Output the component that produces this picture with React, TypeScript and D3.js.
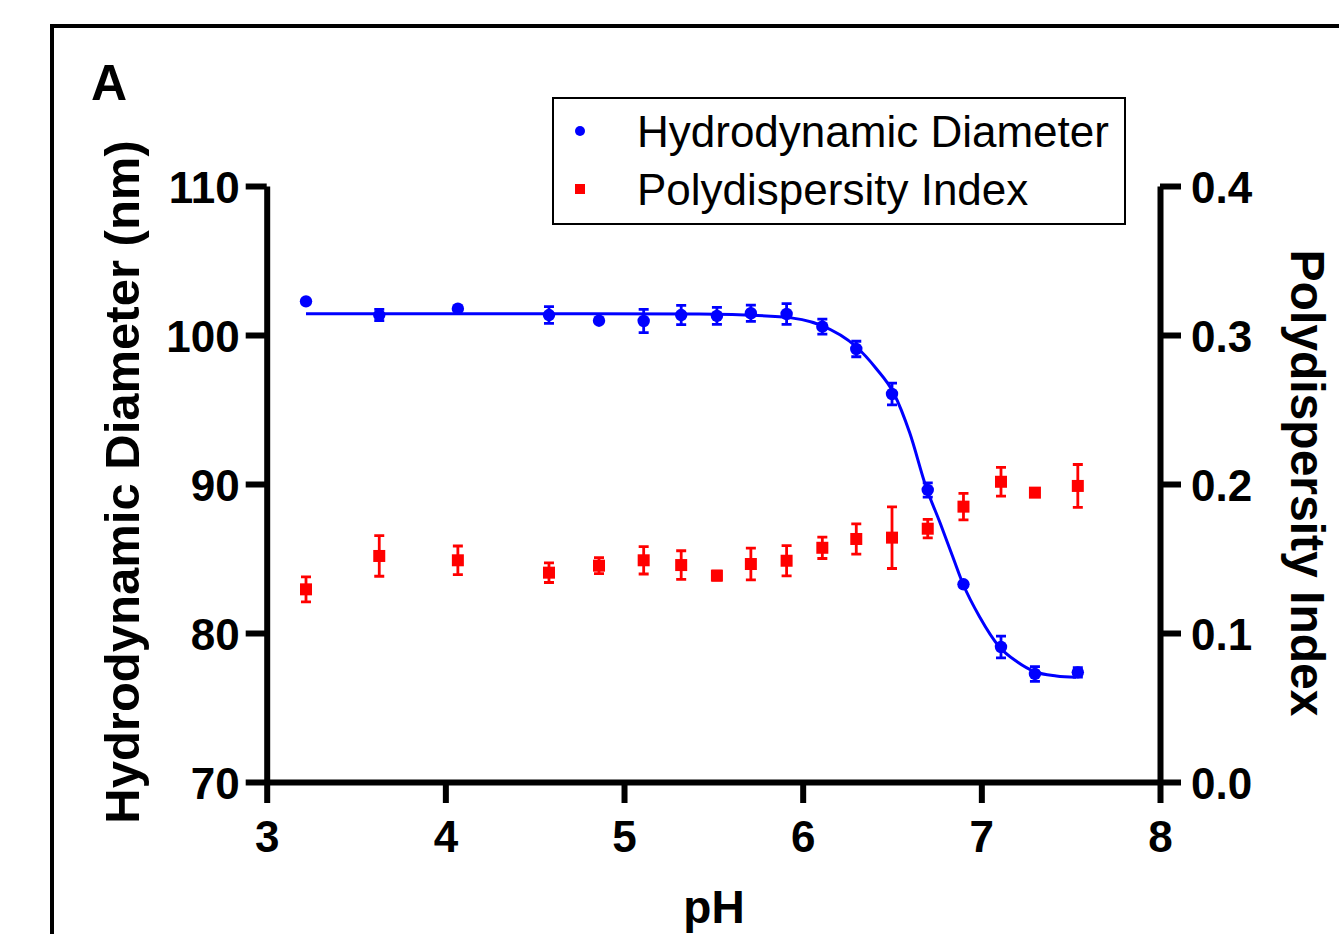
import React, { useEffect, useRef } from "react";
import * as d3 from "d3";

// measured points (pH vs hydrodynamic diameter / PDI)
const phValues = [3.22, 3.63, 4.07, 4.58, 4.86, 5.11, 5.32, 5.52, 5.71, 5.91, 6.11, 6.3, 6.5, 6.7, 6.9, 7.11, 7.3, 7.54];
const diameter = [102.26, 101.34, 101.77, 101.34, 100.96, 100.94, 101.34, 101.28, 101.46, 101.41, 100.56, 99.06, 96.04, 89.6, 83.27, 79.06, 77.25, 77.36];
const diameterErr = [0, 0.38, 0, 0.56, 0, 0.78, 0.65, 0.57, 0.54, 0.7, 0.5, 0.52, 0.73, 0.48, 0, 0.73, 0.5, 0.32];
const pdi = [0.1293, 0.1517, 0.1488, 0.1405, 0.1452, 0.1488, 0.1456, 0.1385, 0.1463, 0.1485, 0.1572, 0.1631, 0.164, 0.17, 0.1848, 0.2015, 0.1942, 0.1987];
const pdiErr = [0.0084, 0.0136, 0.0096, 0.0066, 0.0054, 0.0092, 0.0096, 0.003, 0.0106, 0.0102, 0.0072, 0.0102, 0.0207, 0.0062, 0.0089, 0.0097, 0.002, 0.0144];

// sigmoid fit line
const fitPh = [3.22, 4.3, 5.42, 5.87, 6.1, 6.3, 6.41, 6.51, 6.6, 6.69, 6.77, 6.84, 6.9, 6.99, 7.1, 7.2, 7.3, 7.42, 7.53];
const fitDiameter = [101.43, 101.43, 101.41, 101.23, 100.67, 99.21, 97.77, 96.09, 93.4, 89.82, 87.36, 85.12, 83.22, 81.09, 79.08, 78.07, 77.4, 77.12, 77.03];

const xTicks = [3, 4, 5, 6, 7, 8];
const leftTicks = [70, 80, 90, 100, 110];
const rightTicks = [0, 0.1, 0.2, 0.3, 0.4];
const legendNames = ["Hydrodynamic Diameter", "Polydispersity Index"];
const seriesColors = ["#0000ff", "#ff0000"];

const W = 1339;
const H = 934;
const FONT = "'Liberation Sans', Arial, sans-serif";

export default function App() {
  const ref = useRef<SVGSVGElement>(null);

  useEffect(() => {
    const svg = d3.select(ref.current);
    svg.selectAll("*").remove();

    const x = d3.scaleLinear().domain([3, 8]).range([266.7, 1160]);
    const yL = d3.scaleLinear().domain([70, 110]).range([782, 186]);
    const yR = d3.scaleLinear().domain([0, 0.4]).range([782, 186]);

    // outer panel frame (runs off the page on right and bottom)
    svg.append("rect")
      .attr("x", 52).attr("y", 26)
      .attr("width", 1400).attr("height", 1000)
      .attr("fill", "none").attr("stroke", "#000").attr("stroke-width", 4);

    svg.append("text")
      .attr("x", 91).attr("y", 100)
      .attr("font-family", FONT).attr("font-weight", "bold").attr("font-size", 50)
      .text("A");

    const styleAxis = (g: any) => {
      g.select(".domain").attr("stroke-width", 6);
      g.selectAll(".tick line").attr("stroke-width", 6);
      g.selectAll(".tick text")
        .attr("font-family", FONT).attr("font-weight", "bold").attr("font-size", 44)
        .attr("fill", "#000");
    };

    // axes
    const gx = svg.append("g").attr("transform", "translate(0,782)")
      .call(d3.axisBottom(x).tickValues(xTicks).tickSize(21).tickSizeOuter(0).tickPadding(18).tickFormat(d3.format("d")));
    styleAxis(gx);
    gx.selectAll(".tick text").attr("dy", "0.71em");

    const gl = svg.append("g").attr("transform", "translate(266.7,0)")
      .call(d3.axisLeft(yL).tickValues(leftTicks).tickSize(21).tickSizeOuter(0).tickPadding(6).tickFormat(d3.format("d")));
    styleAxis(gl);
    gl.selectAll(".tick text").attr("dy", "0.38em");

    const gr = svg.append("g").attr("transform", "translate(1160,0)")
      .call(d3.axisRight(yR).tickValues(rightTicks).tickSize(21).tickSizeOuter(0).tickPadding(10).tickFormat(d3.format(".1f")));
    styleAxis(gr);
    gr.selectAll(".tick text").attr("dy", "0.38em");

    // axis titles
    svg.append("text")
      .attr("transform", "translate(139,482) rotate(-90)")
      .attr("text-anchor", "middle")
      .attr("font-family", FONT).attr("font-weight", "bold").attr("font-size", 49)
      .text("Hydrodynamic Diameter (nm)");

    svg.append("text")
      .attr("transform", "translate(1291,483) rotate(90)")
      .attr("text-anchor", "middle")
      .attr("font-family", FONT).attr("font-weight", "bold").attr("font-size", 48)
      .text("Polydispersity Index");

    svg.append("text")
      .attr("x", 714).attr("y", 923)
      .attr("text-anchor", "middle")
      .attr("font-family", FONT).attr("font-weight", "bold").attr("font-size", 46)
      .text("pH");

    const capW = 5;

    // PDI series (right axis)
    const red = svg.append("g").attr("stroke", seriesColors[1]).attr("fill", seriesColors[1]);
    phValues.forEach((p, i) => {
      const cx = x(p);
      const e = pdiErr[i];
      if (e > 0) {
        const y1 = yR(pdi[i] + e), y2 = yR(pdi[i] - e);
        red.append("path")
          .attr("d", `M${cx},${y1}V${y2}M${cx - capW},${y1}H${cx + capW}M${cx - capW},${y2}H${cx + capW}`)
          .attr("fill", "none").attr("stroke-width", 2.8);
      }
      red.append("rect")
        .attr("x", cx - 6).attr("y", yR(pdi[i]) - 6)
        .attr("width", 12).attr("height", 12).attr("stroke", "none");
    });

    // fit line
    const line = d3.line<number>()
      .x((d) => x(d))
      .y((d, i) => yL(fitDiameter[i]))
      .curve(d3.curveMonotoneX);
    svg.append("path")
      .datum(fitPh)
      .attr("d", line)
      .attr("fill", "none")
      .attr("stroke", seriesColors[0])
      .attr("stroke-width", 3);

    // diameter series (left axis)
    const blue = svg.append("g").attr("stroke", seriesColors[0]).attr("fill", seriesColors[0]);
    phValues.forEach((p, i) => {
      const cx = x(p);
      const e = diameterErr[i];
      if (e > 0) {
        const y1 = yL(diameter[i] + e), y2 = yL(diameter[i] - e);
        blue.append("path")
          .attr("d", `M${cx},${y1}V${y2}M${cx - capW},${y1}H${cx + capW}M${cx - capW},${y2}H${cx + capW}`)
          .attr("fill", "none").attr("stroke-width", 2.8);
      }
      blue.append("circle")
        .attr("cx", cx).attr("cy", yL(diameter[i]))
        .attr("r", 6.2).attr("stroke", "none");
    });

    // legend
    const lg = svg.append("g");
    lg.append("rect")
      .attr("x", 553).attr("y", 98).attr("width", 572).attr("height", 126)
      .attr("fill", "#fff").attr("stroke", "#000").attr("stroke-width", 2);
    legendNames.forEach((name, i) => {
      const cy = 131 + i * 58;
      if (i === 0) {
        lg.append("circle").attr("cx", 580).attr("cy", cy).attr("r", 5).attr("fill", seriesColors[i]);
      } else {
        lg.append("rect").attr("x", 575).attr("y", cy - 5).attr("width", 10).attr("height", 10).attr("fill", seriesColors[i]);
      }
      lg.append("text")
        .attr("x", 637).attr("y", cy + 16)
        .attr("font-family", FONT).attr("font-size", 44)
        .text(name);
    });
  }, []);

  return (
    <svg
      ref={ref}
      width={W}
      height={H}
      style={{ position: "absolute", left: 0, top: 0, background: "#fff" }}
    />
  );
}
